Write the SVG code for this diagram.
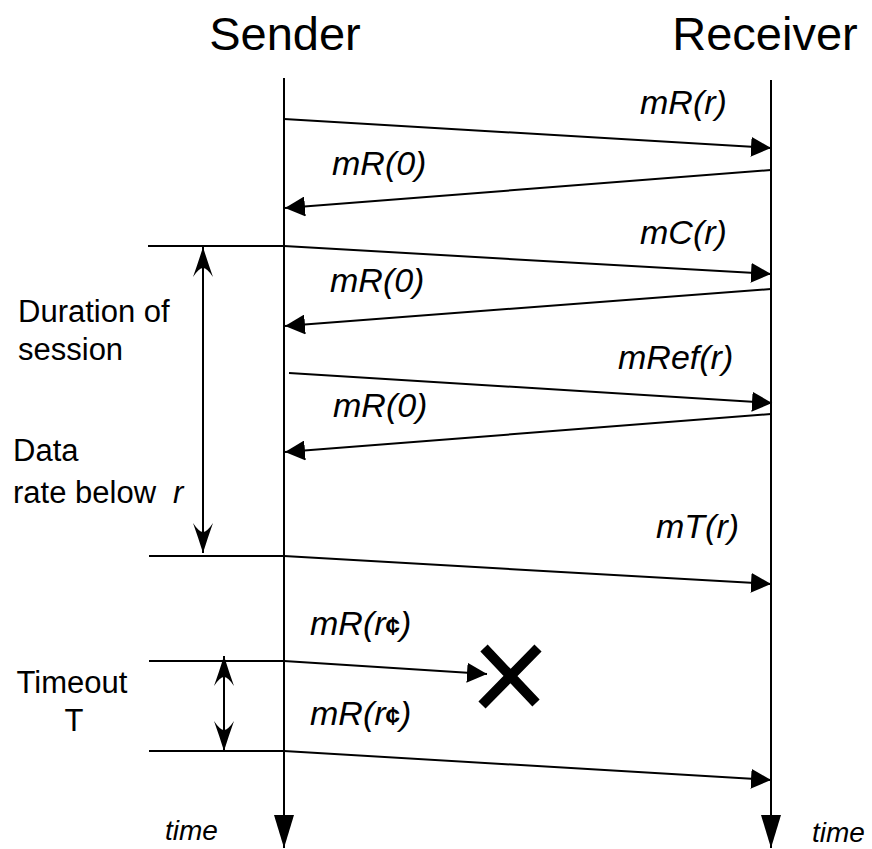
<svg xmlns="http://www.w3.org/2000/svg" width="872" height="849" viewBox="0 0 872 849">
  <style>
    text { font-family: "Liberation Sans", Arial, sans-serif; fill: #000; }
    .title { font-size: 47px; }
    .msg { font-size: 34px; font-style: italic; }
    .note { font-size: 31px; }
    .time { font-size: 28px; font-style: italic; }
    .life { stroke: #000; stroke-width: 2; fill: none; }
    .m { stroke: #000; stroke-width: 2; fill: none; marker-end: url(#tri); }
    .tick { stroke: #000; stroke-width: 2; fill: none; }
    .span { stroke: #000; stroke-width: 2; fill: none; marker-start: url(#barb); marker-end: url(#barb); }
  </style>
  <defs>
    <marker id="tri" viewBox="0 0 20 20" refX="20" refY="10" markerWidth="20" markerHeight="20" markerUnits="userSpaceOnUse" orient="auto">
      <path d="M0,0 L20,10 L0,20 Z" fill="#000"/>
    </marker>
    <marker id="down" viewBox="0 0 33 20" refX="33" refY="10" markerWidth="33" markerHeight="20" markerUnits="userSpaceOnUse" orient="auto">
      <path d="M0,0 L33,10 L0,20 Z" fill="#000"/>
    </marker>
    <marker id="barb" viewBox="0 0 30 20" refX="30" refY="10" markerWidth="30" markerHeight="20" markerUnits="userSpaceOnUse" orient="auto-start-reverse">
      <path d="M30,10 Q14,5 0,0 Q9,6 9,10 Q9,14 0,20 Q14,15 30,10 Z" fill="#000"/>
    </marker>
  </defs>

  <g id="sender">
    <text class="title" x="285" y="50" text-anchor="middle">Sender</text>
    <line class="life" x1="284" y1="78" x2="284" y2="848" marker-end="url(#down)"/>
    <text class="time" x="165" y="840">time</text>
  </g>

  <g id="receiver">
    <text class="title" x="765" y="50" text-anchor="middle">Receiver</text>
    <line class="life" x1="771" y1="80" x2="771" y2="848" marker-end="url(#down)"/>
    <text class="time" x="812" y="842">time</text>
  </g>

  <g id="session-note">
    <line class="tick" x1="148" y1="246" x2="284" y2="246"/>
    <line class="tick" x1="149" y1="556" x2="284" y2="556"/>
    <line class="span" x1="203" y1="247" x2="203" y2="553"/>
    <text class="note" x="18" y="322">Duration of</text>
    <text class="note" x="18" y="360">session</text>
    <text class="note" x="13" y="461">Data</text>
    <text class="note" x="13" y="503">rate below</text>
    <text class="note" x="173" y="503" font-style="italic" font-size="40">r</text>
  </g>

  <g id="timeout-note">
    <line class="tick" x1="149" y1="661" x2="284" y2="661"/>
    <line class="tick" x1="149" y1="751" x2="284" y2="751"/>
    <line class="span" x1="224" y1="656" x2="224" y2="751"/>
    <text class="note" x="72" y="693" text-anchor="middle">Timeout</text>
    <text class="note" x="74" y="731" text-anchor="middle">T</text>
  </g>

  <g id="loss">
    <path d="M484,648 L536,703 M538,648 L482,705" stroke="#000" stroke-width="10" fill="none"/>
  </g>

  <g id="connectors">
    <line class="m" x1="284" y1="119" x2="771" y2="148"/>
    <line class="m" x1="771" y1="170" x2="285" y2="208"/>
    <line class="m" x1="284" y1="246" x2="771" y2="274"/>
    <line class="m" x1="771" y1="289" x2="285" y2="326"/>
    <line class="m" x1="289" y1="373" x2="772" y2="403"/>
    <line class="m" x1="771" y1="414" x2="285" y2="452"/>
    <line class="m" x1="284" y1="556" x2="771" y2="584"/>
    <line class="m" x1="284" y1="661" x2="487" y2="674"/>
    <line class="m" x1="284" y1="751" x2="771" y2="780"/>
  </g>

  <g id="labels">
    <text class="msg" x="640" y="114">mR(r)</text>
    <text class="msg" x="332" y="175">mR(0)</text>
    <text class="msg" x="640" y="244">mC(r)</text>
    <text class="msg" x="330" y="292">mR(0)</text>
    <text class="msg" x="618" y="369">mRef(r)</text>
    <text class="msg" x="333" y="417">mR(0)</text>
    <text class="msg" x="656" y="538">mT(r)</text>
    <text class="msg" x="310" y="635">mR(r<tspan font-style="normal" font-weight="bold" font-size="26">¢</tspan>)</text>
    <text class="msg" x="310" y="725">mR(r<tspan font-style="normal" font-weight="bold" font-size="26">¢</tspan>)</text>
  </g>
</svg>
